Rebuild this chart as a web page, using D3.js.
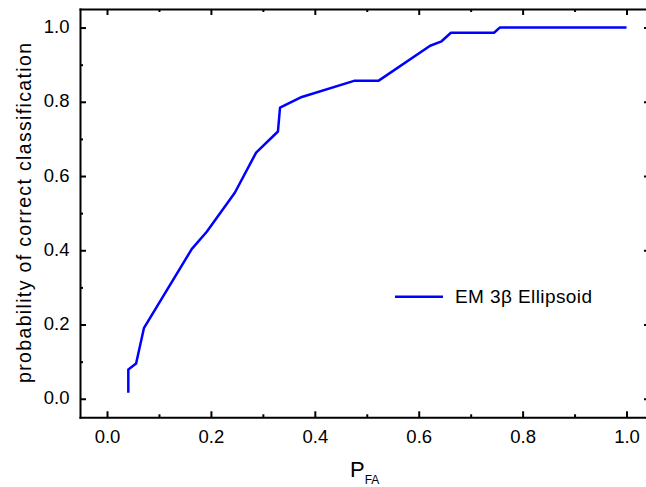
<!DOCTYPE html>
<html>
<head>
<meta charset="utf-8">
<script src="https://cdn.jsdelivr.net/npm/d3@7"></script>
<style>
  body { margin: 0; background: #fff; }
  svg { display: block; font-family: "Liberation Sans", Arial, sans-serif; }
</style>
</head>
<body>
<div id="chart"></div>
<script>
// ROC curve values
var pfa = [0.041, 0.041, 0.056, 0.071, 0.163, 0.192, 0.246, 0.287, 0.329, 0.333, 0.375, 0.477, 0.523, 0.622, 0.644, 0.662, 0.745, 0.756, 1.0];
var pcc = [0.016, 0.079, 0.095, 0.19, 0.403, 0.45, 0.555, 0.663, 0.72, 0.784, 0.813, 0.857, 0.857, 0.951, 0.963, 0.986, 0.986, 1.0, 1.0];
var majorTicks = [0, 0.2, 0.4, 0.6, 0.8, 1.0];
var minorTicks = [0.1, 0.3, 0.5, 0.7, 0.9];
var seriesName = "EM 3\u03b2 Ellipsoid";

var svgWidth = 646;
var svgHeight = 487;

// plot frame in pixels
var frame = { left: 80, top: 9, right: 650, bottom: 417.3 };

var svg = d3.select("#chart")
  .append("svg")
  .attr("width", svgWidth)
  .attr("height", svgHeight);

var x = d3.scaleLinear()
  .domain([-0.052, 1.0452])
  .range([frame.left, frame.right]);

var y = d3.scaleLinear()
  .domain([-0.05, 1.05])
  .range([frame.bottom, frame.top]);

var fmt = d3.format(".1f");

// draw one side of the frame: major + minor ticks pointing inward
function side(axisFn, scale, pos, labels) {
  var g = svg.append("g").attr("transform", pos);
  g.call(axisFn(scale).tickValues(majorTicks).tickSizeInner(-6).tickSizeOuter(0)
    .tickFormat(labels ? fmt : ""));
  var m = svg.append("g").attr("transform", pos);
  m.call(axisFn(scale).tickValues(minorTicks).tickSizeInner(-3).tickSizeOuter(0).tickFormat(""));
  m.select(".domain").remove();
  [g, m].forEach(function(s) {
    s.attr("font-family", null);
    s.selectAll(".tick line").attr("stroke", "#000").attr("stroke-width", 2);
  });
  g.select(".domain").attr("stroke", "#000").attr("stroke-width", 2);
  return g;
}

var bottomAxis = side(d3.axisBottom, x, `translate(0, ${frame.bottom})`, true);
bottomAxis.selectAll(".tick text")
  .attr("y", 26).attr("dy", null)
  .attr("font-size", 18.5).attr("fill", "#000");

var leftAxis = side(d3.axisLeft, y, `translate(${frame.left}, 0)`, true);
leftAxis.selectAll(".tick text")
  .attr("x", -10.5).attr("dy", "0.27em")
  .attr("font-size", 18.5).attr("fill", "#000");

side(d3.axisTop, x, `translate(0, ${frame.top})`, false);
side(d3.axisRight, y, `translate(${frame.right}, 0)`, false);

svg.selectAll(".domain").attr("stroke-linecap", "square");

// curve
var pts = pfa.map(function(v, i) { return [v, pcc[i]]; });
var line = d3.line()
  .x(d => x(d[0]))
  .y(d => y(d[1]));

svg.append("path")
  .datum(pts)
  .attr("d", line)
  .attr("fill", "none")
  .attr("stroke", "#0000ff")
  .attr("stroke-width", 2.5)
  .attr("stroke-linejoin", "round");

// legend
svg.append("line")
  .attr("x1", 395).attr("x2", 443)
  .attr("y1", 296.7).attr("y2", 296.7)
  .attr("stroke", "#0000ff")
  .attr("stroke-width", 2.5);

svg.append("text")
  .attr("x", 455).attr("y", 303.3)
  .attr("font-size", 19)
  .attr("textLength", 137)
  .attr("lengthAdjust", "spacing")
  .text(seriesName);

// axis titles
svg.append("text")
  .attr("transform", "translate(31, 213) rotate(-90)")
  .attr("text-anchor", "middle")
  .attr("font-size", 19.5)
  .attr("textLength", 340)
  .attr("lengthAdjust", "spacing")
  .text("probability of correct classification");

var xt = svg.append("text")
  .attr("x", 350).attr("y", 476.5)
  .attr("font-size", 22);
xt.append("tspan").text("P");
xt.append("tspan").attr("font-size", 12).attr("dy", 7).text("FA");
</script>
</body>
</html>
